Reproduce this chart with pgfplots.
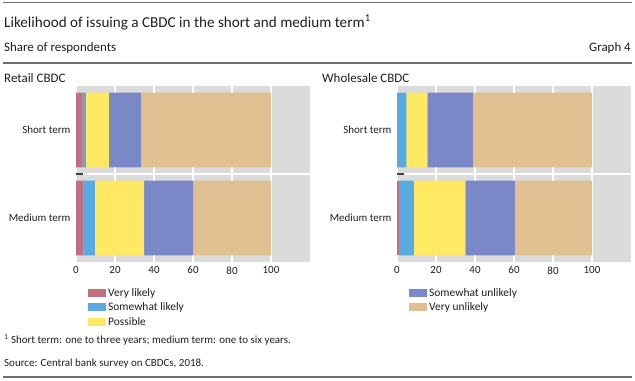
\documentclass[border=0pt]{standalone}
\usepackage{pgfplots}
\pgfplotsset{compat=1.18}
\usepackage{fontspec}
\setmainfont{Carlito}
\definecolor{vlikely}{RGB}{192,110,128}
\definecolor{swlikely}{RGB}{88,170,224}
\definecolor{possible}{RGB}{255,232,100}
\definecolor{swunlikely}{RGB}{122,136,200}
\definecolor{vunlikely}{RGB}{224,192,144}
\definecolor{bggrey}{RGB}{219,219,219}
\definecolor{rulegrey}{RGB}{110,110,110}
\definecolor{txt}{RGB}{30,30,30}
\pgfplotsset{
  panel/.style={
    scale only axis, width=234bp, height=176bp, anchor=south west,
    xbar stacked, bar width=0.85,
    xmin=0, xmax=120, ymin=-0.5, ymax=1.5,
    axis background/.style={fill=bggrey},
    axis line style={draw=none},
    xtick={0,20,40,60,80,100},
    xmajorgrids, grid style={white, line width=1.2bp},
    ytick={0,1}, yticklabels={Medium term, Short term},
    major tick length=0pt, ytick pos=left, xtick pos=bottom,
    extra y ticks={0.5}, extra y tick labels={},
    extra y tick style={ymajorgrids=true, major tick length=7bp,
      tick style={draw=black!75, line width=1.2bp}},
    /pgf/number format/assume math mode=true,
    ticklabel style={font=\fontsize{11}{13}\selectfont, text=txt},
    xticklabel style={yshift=-1bp},
    yticklabel style={xshift=-2bp},
    every axis plot/.append style={draw=none},
    legend image code/.code={\fill[##1] (0bp,-4bp) rectangle (18bp,4bp);},
    legend style={at={(0,0)}, anchor=north west, xshift=12bp, yshift=-24bp,
      draw=none, fill=none, inner sep=0pt, row sep=1bp,
      font=\fontsize{11.5}{13}\selectfont, text=txt,
      cells={anchor=west}},
  }
}
\begin{document}
\begin{tikzpicture}[x=1bp,y=1bp]
\useasboundingbox (0,0) rectangle (635,380);
\draw[rulegrey, line width=1.3bp] (3,377.5) -- (632,377.5);
\draw[rulegrey, line width=1.3bp] (3,317) -- (632,317);
\draw[rulegrey, line width=1.3bp] (3,3) -- (632,3);
\node[anchor=base west, inner sep=0pt, text=txt, font=\fontsize{15.2}{18}\selectfont] at (4,353) {Likelihood of issuing a CBDC in the short and medium term\textsuperscript{1}};
\node[anchor=base west, inner sep=0pt, text=txt, font=\fontsize{13}{15}\selectfont] at (4,329) {Share of respondents};
\node[anchor=base east, inner sep=0pt, text=txt, font=\fontsize{13}{15}\selectfont] at (631,329) {Graph 4};
\node[anchor=base west, inner sep=0pt, text=txt, font=\fontsize{13}{15}\selectfont] at (4,297.5) {Retail CBDC};
\node[anchor=base west, inner sep=0pt, text=txt, font=\fontsize{13}{15}\selectfont] at (322,297.5) {Wholesale CBDC};
\node[anchor=base west, inner sep=0pt, text=txt, font=\fontsize{11}{13}\selectfont] at (4,36.5) {\textsuperscript{1} Short term: one to three years; medium term: one to six years.};
\node[anchor=base west, inner sep=0pt, text=txt, font=\fontsize{11}{13}\selectfont] at (4,13.5) {Source: Central bank survey on CBDCs, 2018.};

\begin{axis}[panel, at={(76bp,118bp)}]
\addplot[fill=vlikely] coordinates {(3.4,1) (3.8,0)};
\addplot[fill=swlikely] coordinates {(1.7,1) (5.9,0)};
\addplot[fill=possible] coordinates {(11.7,1) (25.2,0)};
\addplot[fill=swunlikely] coordinates {(16.5,1) (25.3,0)};
\addplot[fill=vunlikely] coordinates {(66.7,1) (39.8,0)};
\legend{Very likely, Somewhat likely, Possible}
\end{axis}

\begin{axis}[panel, at={(397bp,118bp)}]
\addplot[fill=vlikely] coordinates {(0,1) (1.0,0)};
\addplot[fill=swlikely] coordinates {(4.8,1) (7.6,0)};
\addplot[fill=possible] coordinates {(10.8,1) (26.5,0)};
\addplot[fill=swunlikely] coordinates {(23.3,1) (25.3,0)};
\addplot[fill=vunlikely] coordinates {(61.1,1) (39.6,0)};
\legend{,,,Somewhat unlikely, Very unlikely}
\end{axis}
\end{tikzpicture}
\end{document}
